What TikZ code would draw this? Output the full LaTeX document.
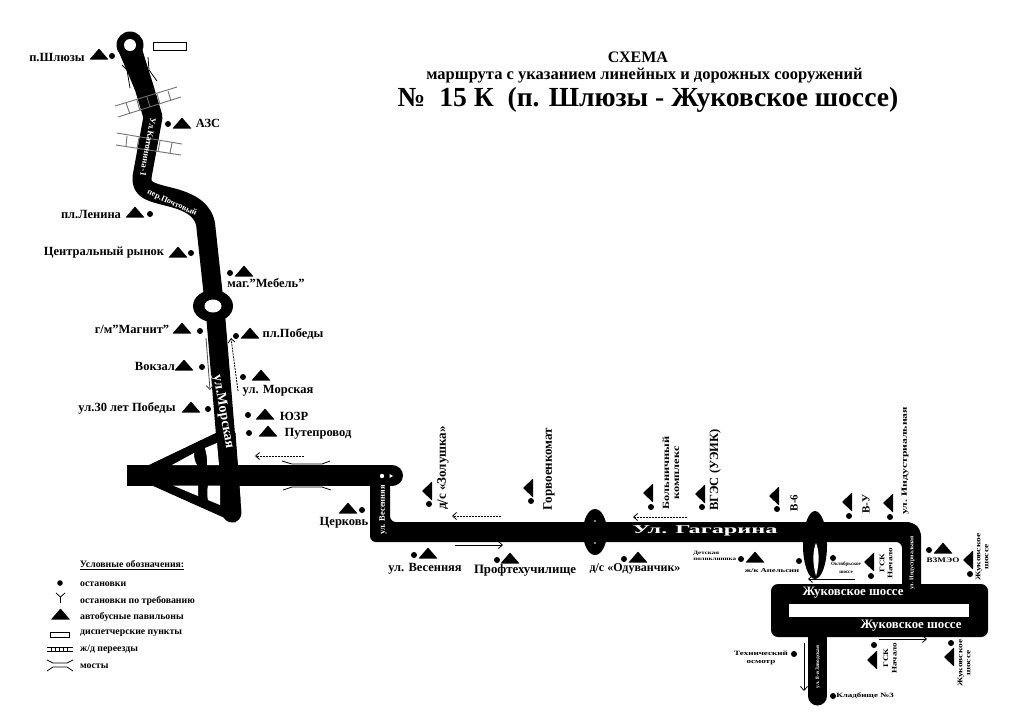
\documentclass[tikz,border=0pt]{standalone}
\usepackage{fontspec}
\setmainfont{Liberation Serif}
\usetikzlibrary{arrows.meta}
\tikzset{
  road/.style={line width=19pt,line join=round,line cap=round,draw=black},
  lab/.style={font=\bfseries\fontsize{#1}{#1}\selectfont,inner sep=0pt,text=black,align=center},
  lab/.default=12.5,
  rlab/.style={font=\bfseries\fontsize{#1}{#1}\selectfont,inner sep=0pt,text=white,align=center},
  rlab/.default=9,
  thinl/.style={line width=0.8pt,draw=black},
  rail/.style={line width=0.9pt,draw=black!55},
  arr/.style={line width=0.8pt,draw=black,-{Straight Barb[length=4pt,width=7pt]}},
  darr/.style={arr,dash pattern=on 2pt off 1pt},
}
\newcommand{\sdot}[2]{\fill (#1,#2) circle [radius=3];}
\newcommand{\pavup}[2]{\fill[rounded corners=0.4pt] (#1-9.5,#2+5.5) -- (#1,#2-5.5) -- (#1+9.5,#2+5.5) -- cycle;}
\newcommand{\pavlf}[2]{\fill[rounded corners=0.4pt] (#1-5,#2) -- (#1+5,#2-9.5) -- (#1+5,#2+9.5) -- cycle;}
\begin{document}
\begin{tikzpicture}[x=1pt,y=-1pt]
\useasboundingbox[fill=white] (0,0) rectangle (1024,724);
% --- upper road
\draw[road] (130,45) -- (144,87) -- (153,117) -- (142,177)
  .. controls (141,190) and (150,192) .. (170,197)
  .. controls (190,202) and (205,210) .. (206,228) -- (216,320) -- (232,513);
\fill (118,50) -- (140,42) -- (153,85) -- (135,90) -- cycle;
\fill (130,45) circle [radius=13.5];
\fill[white] (130,45) circle [radius=6];
\fill (213,306) ellipse [x radius=20,y radius=16];
\fill[white] (213,306) ellipse [x radius=8.5,y radius=6.5];
% --- interchange
\fill[line join=round,draw=black,line width=1pt] (217,433) -- (148,466) -- (150,484) -- (235,522) -- (240,500) -- (235,433) -- cycle;
\fill (127,465) rectangle (385,485.5);
\fill[white] (172,465) -- (194,453) .. controls (194,458) and (195,462) .. (197,465) -- cycle;
\fill[white] (205,448) -- (217,443) -- (219,465) -- (207,465) .. controls (208,460) and (206,453) .. (205,448) -- cycle;
\fill[white] (173,485.5) -- (198,485.5) -- (198,496) -- cycle;
\fill[white] (208,485.5) -- (220,485.5) -- (220,505) -- (208,500) .. controls (207,496) and (207,490) .. (208,485.5) -- cycle;
% --- Vesennyaya + Gagarina
\fill (392,475.5) ellipse [x radius=11,y radius=10.5];
\fill (370,465) rectangle (392,486);
\fill[rounded corners=6pt] (370,470) -- (390,470) -- (390,522) -- (913,522) -- (921,530) -- (921,590) -- (902,590) -- (902,542) -- (370,542) -- cycle;
\fill[white] (382,476) circle [radius=2.2];
\fill[white] (389.5,474) -- (393,476) -- (389.5,478) -- cycle;
\fill (595,532) ellipse [x radius=12,y radius=23];
\fill[white] (595,521) circle [radius=0.9];
\fill[white] (595,543) circle [radius=0.9];
\fill (815,545) ellipse [x radius=12,y radius=34];
\fill[white] (816,543) .. controls (813,550) and (812,562) .. (816,576) .. controls (820,562) and (819,550) .. (816,543) -- cycle;
% --- Zhukovskoe loop
\fill[rounded corners=7pt] (771,584) rectangle (988,637);
\fill[white] (789,604) rectangle (969,617);
\draw[line width=19pt,line cap=round] (817.5,630) -- (817.5,696);
% --- rails, bridges
\foreach \a/\b/\c/\d in {115/106/177/87,118/117/181/97,117/133/182/144,116/145/181/155} \draw[rail] (\a,\b) -- (\c,\d);
\foreach \a/\b/\c/\d in {126/103/130/114,137/100/140/111,147/97/150/107,157/94/160/104,168/91/171/101,
  127/136/126/146,139/138/137/148,149/139/148/150,160/141/158/152,172/143/170/153} \draw[rail] (\a,\b) -- (\c,\d);
\draw[thinl] (122,65) -- (127,70) -- (130,88);
\draw[thinl] (148,57) -- (149,70) -- (157,81);
\draw[thinl] (282,461) -- (292,464) -- (322,464) -- (330,461);
\draw[thinl] (283,490) -- (292,487) -- (322,487) -- (331,490);
\draw[line width=0.8pt,fill=white] (153.5,42.5) rectangle (186,50);
% --- direction arrows
\coordinate (a1s) at (855,579); \coordinate (a1e) at (808,579);
\coordinate (a2s) at (879,639); \coordinate (a2e) at (927,639);
\coordinate (a3s) at (804,643); \coordinate (a3e) at (804,691);
\coordinate (a4s) at (455,545); \coordinate (a4e) at (503,545);
\coordinate (a5s) at (501,516); \coordinate (a5e) at (452,516);
\coordinate (a6s) at (687,517); \coordinate (a6e) at (633,517);
\coordinate (a7s) at (304,456); \coordinate (a7e) at (255,456);
\coordinate (a8s) at (238,391); \coordinate (a8e) at (231,338);
\coordinate (a9s) at (206,338); \coordinate (a9e) at (210,390);
\draw[arr] (a1s) -- (a1e);
\draw[arr] (a2s) -- (a2e);
\draw[arr] (a3s) -- (a3e);
\draw[arr] (a4s) -- (a4e);
\draw[darr] (a5s) -- (a5e);
\draw[darr] (a6s) -- (a6e);
\draw[darr] (a7s) -- (a7e);
\draw[darr] (a8s) -- (a8e);
\draw[arr,draw=black!70] (a9s) -- (a9e);
% --- stops
\sdot{112}{56}\pavup{99}{54}
\sdot{168}{124}\pavup{182}{123}
\sdot{150}{214}\pavup{135}{212}
\sdot{191}{253}\pavup{178}{252}
\sdot{230}{273}\pavup{244}{271}
\sdot{200}{331}\pavup{182}{328}
\sdot{236}{336}\pavup{250}{333}
\sdot{202}{367}\pavup{184}{365}
\sdot{243}{377}\pavup{261}{375}
\sdot{208}{409}\pavup{191}{407}
\sdot{248}{415}\pavup{265}{414}
\sdot{249}{433}\pavup{268}{431}
\sdot{362}{510}\pavup{348}{508}
\sdot{414}{555}\pavup{428}{553}
\sdot{497}{560}\pavup{510}{558}
\sdot{624}{559}\pavup{638}{557}
\sdot{741}{559}\pavup{755}{557}
\sdot{799}{561}
\sdot{929}{550}\pavup{943}{548}
\sdot{833}{558}
\sdot{429}{504}\pavlf{427}{491}
\sdot{531}{501}\pavlf{528}{488}
\sdot{651}{507}\pavlf{648}{493}
\sdot{702}{507}\pavlf{700}{494}
\sdot{777}{509}\pavlf{774}{496}
\sdot{849}{516}\pavlf{847}{502}
\sdot{890}{517}\pavlf{888}{503}
\sdot{871}{576}\pavlf{869}{562}
\sdot{970}{574}\pavlf{968}{560}
\sdot{874}{645}\pavlf{872}{660}
\sdot{951}{643}\pavlf{949}{657}
\sdot{794}{654}
\sdot{833}{696}
% --- header
\node[lab=16] (h1) at (638,57) {СХЕМА};
\node[lab=16.5] (h2) at (644.5,76) {маршрута с указанием линейных и дорожных сооружений};
\node[lab=27.6] (h3) at (648,100) {№\ \ 15 К\ \ (п. Шлюзы - Жуковское шоссе)};
% --- stop labels
\node[lab] (n1) at (57,57) {п.Шлюзы};
\node[lab] (n2) at (208,123) {АЗС};
\node[lab] (n3) at (91,214) {пл.Ленина};
\node[lab] (n4) at (104,253) {Центральный рынок};
\node[lab] (n5) at (266,283) {маг.”Мебель”};
\node[lab] (n6) at (132,329) {г/м”Магнит”};
\node[lab] (n7) at (293,334) {пл.Победы};
\node[lab] (n8) at (155,366) {Вокзал};
\node[lab] (n9) at (278,391) {ул. Морская};
\node[lab] (n10) at (127,408) {ул.30 лет Победы};
\node[lab] (n11) at (294,416) {ЮЗР};
\node[lab] (n12) at (318,434) {Путепровод};
\node[lab] (n13) at (344,523) {Церковь};
\node[lab] (n14) at (425,569) {ул. Весенняя};
\node[lab=12.8] (n15) at (525,570) {Профтехучилище};
\node[lab=12] (n16) at (635,569) {д/с «Одуванчик»};
\node[lab=13,rotate=90] (n17) at (443,468) {д/с «Золушка»};
\node[lab=13,rotate=90] (n18) at (549,469) {Горвоенкомат};
\node[lab=9.5,rotate=90,xscale=1.3,font=\bfseries\fontsize{9.5}{10}\selectfont] (n19) at (671,473) {Больничный\\комплекс};
\node[lab,rotate=90] (n20) at (715,470) {ВГЭС (УЭИК)};
\node[lab=11,rotate=90] (n21) at (794,503) {В-6};
\node[lab=11,rotate=90] (n22) at (866,504) {В-У};
\node[lab=8,rotate=90,xscale=1.46] (n23) at (905,461) {ул. Индустриальная};
\node[lab=5,anchor=west,align=left,xscale=1.4,font=\bfseries\fontsize{5}{6}\selectfont] (n24) at (693,556) {Детская\\поликлиника};
\node[lab=6,xscale=1.45] (n25) at (772,571) {ж/к Апельсин};
\node[lab=5,font=\bfseries\fontsize{5}{8}\selectfont] (n26) at (846,568) {Октябрьское\\шоссе};
\node[lab=7,rotate=90,xscale=1.3,font=\bfseries\fontsize{7}{8}\selectfont] (n27) at (886,563) {ГСК\\Начало};
\node[lab=7,xscale=1.3] (n28) at (943,560) {ВЗМЭО};
\node[lab=7,rotate=90,xscale=1.35,font=\bfseries\fontsize{7}{8}\selectfont] (n29) at (982,557) {Жуковское\\шоссе};
\node[lab=7,rotate=90,xscale=1.3,font=\bfseries\fontsize{7}{8.5}\selectfont] (n30) at (890,658) {ГСК\\Начало};
\node[lab=7,rotate=90,xscale=1.35,font=\bfseries\fontsize{7}{8}\selectfont] (n31) at (964,663) {Жуковское\\шоссе};
\node[lab=6.5,xscale=1.4,font=\bfseries\fontsize{6.5}{8.5}\selectfont] (n32) at (761,658) {Технический\\осмотр};
\node[lab=6.5,xscale=1.38] (n33) at (865,696) {Кладбище №3};
% --- road labels
\node[rlab=14,rotate=-80] (r1) at (223,412) {ул.Морская};
\node[rlab=8.8,rotate=-100] (r2) at (148,147) {Ул.Катонина-1};
\node[rlab=8.2,rotate=-24] (r3) at (172,203) {пер.Почтовый};
\node[rlab=8.5,rotate=90] (r4) at (383,510) {ул. Весенняя};
\node[rlab=12,xscale=2.02] (r5) at (705,531) {Ул. Гагарина};
\node[rlab=12.8] (r6) at (853,593) {Жуковское шоссе};
\node[rlab=12.8] (r7) at (911,626) {Жуковское шоссе};
\node[rlab=5.8,rotate=90] (r8) at (912,563) {ул. Индустриальная};
\node[rlab=5.4,rotate=90] (r9) at (818,667) {ул. 8-я Заводская};
% --- legend
\node[lab=9.8] (l0) at (132,565) {\underline{Условные обозначения:}};
\node[lab=9.8,anchor=west] (l1) at (80,584) {остановки};
\node[lab=9.8,anchor=west] (l2) at (80,601) {остановки по требованию};
\node[lab=9.8,anchor=west] (l3) at (80,617) {автобусные павильоны};
\node[lab=9.8,anchor=west] (l4) at (80,633) {диспетчерские пункты};
\node[lab=9.8,anchor=west] (l5) at (80,649) {ж/д переезды};
\node[lab=9.8,anchor=west] (l6) at (80,666) {мосты};
\fill (60,583) circle [radius=2.8];
\draw[thinl] (56,593) -- (60.5,597) -- (65,593) (60.5,597) -- (60.5,603);
\pavup{60.5}{614}
\draw[thinl] (50,632) rectangle (69,637);
\draw[thinl] (47,647) -- (73,647) (47,651) -- (73,651);
\foreach \x in {51,55,59,63,67} \draw[line width=0.5pt] (\x,647) -- (\x,651);
\draw[thinl] (47,660) -- (53,663) -- (67,663) -- (73,660);
\draw[thinl] (47,671) -- (53,667) -- (67,667) -- (73,671);
\end{tikzpicture}
\end{document}
